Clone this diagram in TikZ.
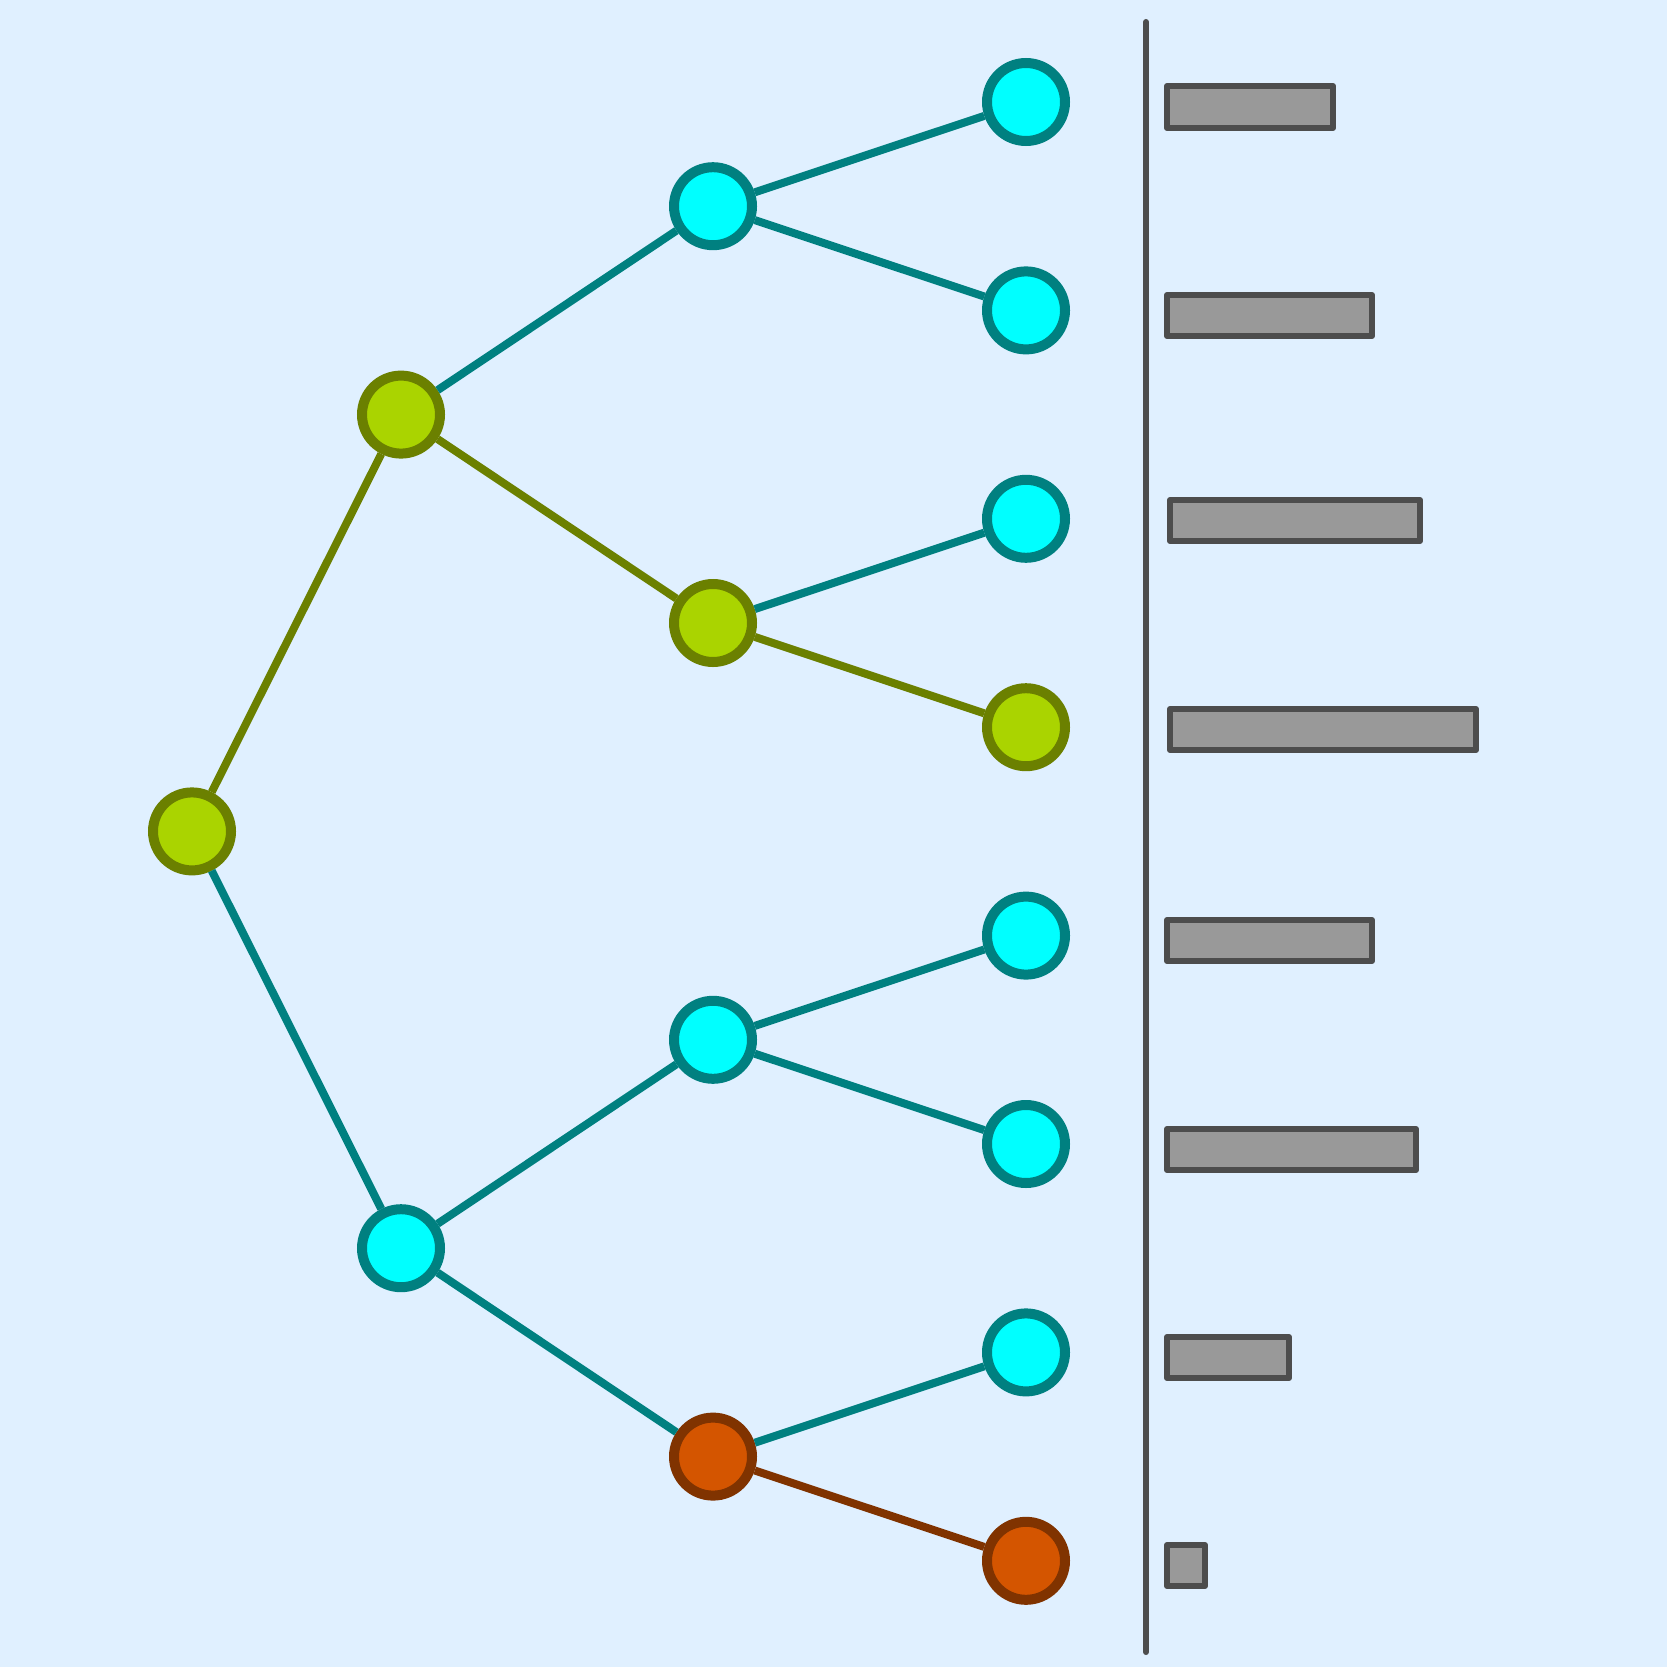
\documentclass[tikz,border=0pt]{standalone}
\begin{document}
\begin{tikzpicture}[x=1pt,y=-1pt,
  bgc/.style={fill=bgblue},
  nd/.style={circle,inner sep=0pt,minimum size=78pt,line width=10pt},
  cyn/.style={nd,fill=cyanf,draw=tealb},
  olv/.style={nd,fill=olivef,draw=oliveb},
  org/.style={nd,fill=orangef,draw=brownb},
  eteal/.style={draw=tealb,line width=8pt},
  eolive/.style={draw=oliveb,line width=8pt},
  ebrown/.style={draw=brownb,line width=8pt},
  bar/.style={fill=barf,draw=barb,line width=6pt,line join=round},
  axis/.style={draw=barb,line width=6pt,line cap=round}]
\definecolor{bgblue}{RGB}{224,240,255}
\definecolor{cyanf}{RGB}{0,255,255}
\definecolor{tealb}{RGB}{0,128,128}
\definecolor{olivef}{RGB}{170,212,0}
\definecolor{oliveb}{RGB}{107,128,0}
\definecolor{orangef}{RGB}{212,85,0}
\definecolor{brownb}{RGB}{128,51,0}
\definecolor{barf}{RGB}{153,153,153}
\definecolor{barb}{RGB}{77,77,77}
\fill[bgc] (0,0) rectangle (1667,1667);
\useasboundingbox (0,0) rectangle (1667,1667);
% nodes
\node[olv] (r) at (192,831.4) {};
\node[olv] (a) at (401,414.6) {};
\node[cyn] (b) at (401,1248.2) {};
\node[cyn] (aa) at (713,206.2) {};
\node[olv] (ab) at (713,623) {};
\node[cyn] (ba) at (713,1039.8) {};
\node[org] (bb) at (713,1456.6) {};
\node[cyn] (l1) at (1026,102) {};
\node[cyn] (l2) at (1026,310.4) {};
\node[cyn] (l3) at (1026,518.8) {};
\node[olv] (l4) at (1026,727.2) {};
\node[cyn] (l5) at (1026,935.6) {};
\node[cyn] (l6) at (1026,1144) {};
\node[cyn] (l7) at (1026,1352.4) {};
\node[org] (l8) at (1026,1560.8) {};
% edges
\draw[eolive] (r) -- (a);
\draw[eteal] (r) -- (b);
\draw[eteal] (a) -- (aa);
\draw[eolive] (a) -- (ab);
\draw[eteal] (b) -- (ba);
\draw[eteal] (b) -- (bb);
\draw[eteal] (aa) -- (l1);
\draw[eteal] (aa) -- (l2);
\draw[eteal] (ab) -- (l3);
\draw[eolive] (ab) -- (l4);
\draw[eteal] (ba) -- (l5);
\draw[eteal] (ba) -- (l6);
\draw[eteal] (bb) -- (l7);
\draw[ebrown] (bb) -- (l8);
% axis
\coordinate (ax1) at (1146,22);
\coordinate (ax2) at (1146,1652);
\draw[axis] (ax1) -- (ax2);
% bars
\draw[bar] (1167,86) rectangle (1333,128);
\draw[bar] (1167,295) rectangle (1372,336);
\draw[bar] (1170,500) rectangle (1420,541);
\draw[bar] (1170,709) rectangle (1476,750);
\draw[bar] (1167,920) rectangle (1372,961);
\draw[bar] (1167,1129) rectangle (1416,1170);
\draw[bar] (1167,1337) rectangle (1289,1378);
\draw[bar] (1167,1545) rectangle (1205,1586);
\end{tikzpicture}
\end{document}
